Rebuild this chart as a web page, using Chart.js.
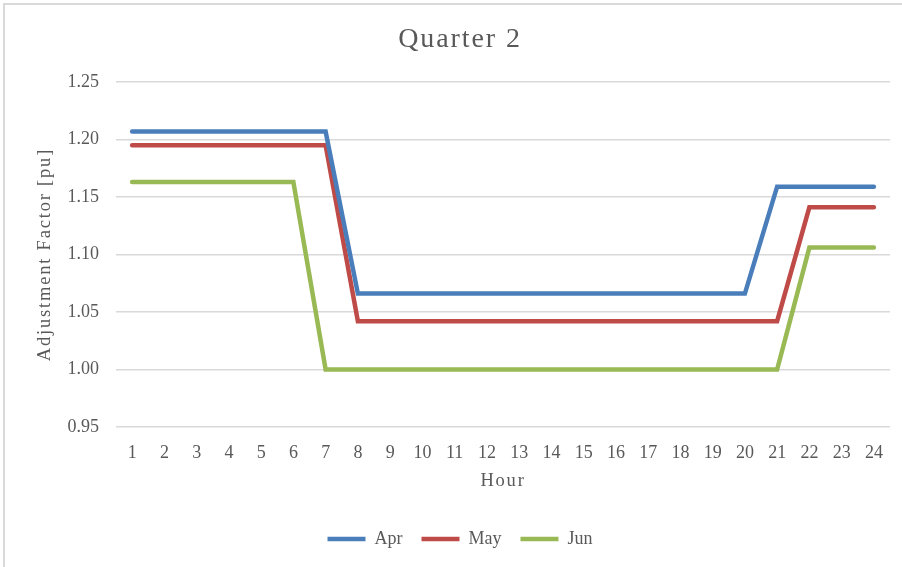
<!DOCTYPE html>
<html>
<head>
<meta charset="utf-8">
<script src="https://cdn.jsdelivr.net/npm/chart.js@4/dist/chart.umd.min.js"></script>
<style>
  html, body { margin: 0; padding: 0; background: #ffffff; }
  #wrap { position: relative; width: 902px; height: 567px; overflow: hidden; }
  #frame { position: absolute; left: 3px; top: 3px; width: 940px; height: 600px;
           border-left: 2px solid #d9d9d9; border-top: 2px solid #d9d9d9; pointer-events: none; }
  canvas { position: absolute; left: 0; top: 0; }
</style>
</head>
<body>
<div id="wrap">
  <canvas id="chart" width="902" height="567"></canvas>
  <div id="frame"></div>
</div>
<script>
// Hourly adjustment factors for the second quarter
const hours = ["1","2","3","4","5","6","7","8","9","10","11","12","13","14","15","16","17","18","19","20","21","22","23","24"];
const apr = [1.207,1.207,1.207,1.207,1.207,1.207,1.207,1.066,1.066,1.066,1.066,1.066,1.066,1.066,1.066,1.066,1.066,1.066,1.066,1.066,1.159,1.159,1.159,1.159];
const may = [1.195,1.195,1.195,1.195,1.195,1.195,1.195,1.042,1.042,1.042,1.042,1.042,1.042,1.042,1.042,1.042,1.042,1.042,1.042,1.042,1.042,1.141,1.141,1.141];
const jun = [1.163,1.163,1.163,1.163,1.163,1.163,1.000,1.000,1.000,1.000,1.000,1.000,1.000,1.000,1.000,1.000,1.000,1.000,1.000,1.000,1.000,1.106,1.106,1.106];
const seriesNames = ["Apr", "May", "Jun"];
const yTicks = { min: 0.95, max: 1.25, step: 0.05 };

const FONT = "'Liberation Serif', 'Times New Roman', serif";
const TEXT = "#595959";
const TITLE_SIZE = 28;
const AXIS_TITLE_SIZE = 18.5;
const LABEL_SIZE = 18;

// Wider tracking for the chart and axis titles; numbers and legend stay untracked.
const canvas = document.getElementById("chart");
const ctx2d = canvas.getContext("2d");
function trackingFor(font) {
  const m = /(\d+(?:\.\d+)?)px/.exec(font || "");
  const size = m ? parseFloat(m[1]) : 0;
  if (size === TITLE_SIZE) return "1.9px";
  if (size === AXIS_TITLE_SIZE) return "1.8px";
  return "0px";
}
["fillText", "strokeText", "measureText"].forEach((fn) => {
  const orig = ctx2d[fn];
  ctx2d[fn] = function (...args) {
    this.letterSpacing = trackingFor(this.font);
    return orig.apply(this, args);
  };
});

function series(label, data, color) {
  return {
    label, data,
    borderColor: color, backgroundColor: color,
    borderWidth: 4.5, borderCapStyle: "round", borderJoinStyle: "miter",
    pointRadius: 0, pointHoverRadius: 0, tension: 0, fill: false,
    pointStyle: "line"
  };
}

new Chart(canvas, {
  type: "line",
  data: {
    labels: hours,
    datasets: [
      series(seriesNames[0], apr, "#4a7ebb"),
      series(seriesNames[1], may, "#be4b48"),
      series(seriesNames[2], jun, "#98b954")
    ]
  },
  options: {
    responsive: false,
    animation: false,
    layout: { padding: { left: 30, right: 12, top: 0, bottom: 9 } },
    plugins: {
      tooltip: { enabled: false },
      title: {
        display: true, text: "Quarter 2", color: TEXT,
        font: { family: FONT, size: TITLE_SIZE, weight: "normal" },
        padding: { top: 22.7, bottom: 25.7 }
      },
      legend: {
        position: "bottom",
        labels: {
          color: TEXT, font: { family: FONT, size: LABEL_SIZE },
          usePointStyle: true, pointStyleWidth: 38, boxHeight: 18, padding: 19
        }
      }
    },
    scales: {
      x: {
        offset: true,
        grid: { display: false, drawTicks: false },
        border: { display: false },
        ticks: { color: TEXT, font: { family: FONT, size: LABEL_SIZE }, padding: 15.5, maxRotation: 0, autoSkip: false },
        title: { display: true, text: "Hour", color: TEXT, font: { family: FONT, size: AXIS_TITLE_SIZE }, padding: { top: 0, bottom: 18.9 } },
        afterFit(scale) { scale.height = 84; }
      },
      y: {
        min: yTicks.min, max: yTicks.max,
        grid: { color: "#d9d9d9", lineWidth: 1.5, drawTicks: false },
        border: { display: false },
        ticks: {
          stepSize: yTicks.step, color: TEXT, font: { family: FONT, size: LABEL_SIZE }, padding: 17,
          callback: (v) => Number(v).toFixed(2)
        },
        title: { display: true, text: "Adjustment Factor [pu]", color: TEXT, font: { family: FONT, size: AXIS_TITLE_SIZE }, padding: { top: 4, bottom: 0 } },
        afterFit(scale) { scale.width = 86; }
      }
    }
  }
});
</script>
</body>
</html>
